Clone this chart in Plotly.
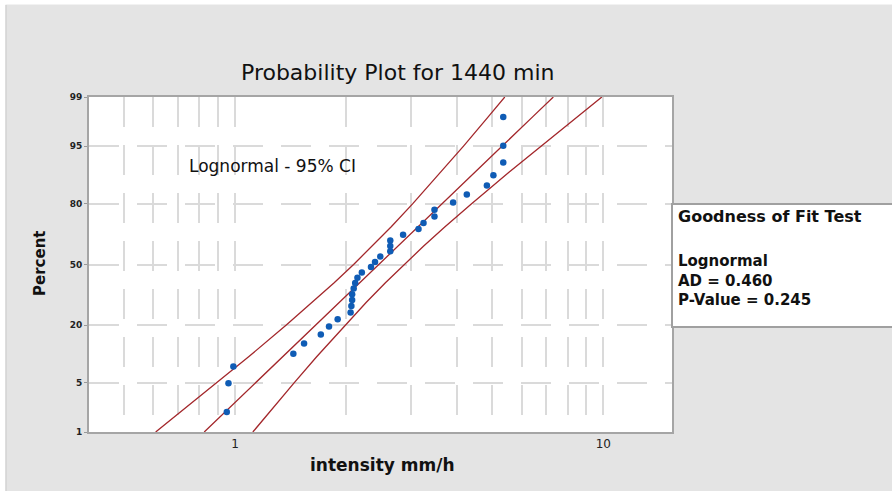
import plotly.graph_objects as go
from statistics import NormalDist

# ---------------- data ----------------
intensity = [0.95, 0.96, 0.99, 1.44, 1.54, 1.71, 1.80, 1.90, 2.06, 2.07,
             2.08, 2.08, 2.10, 2.12, 2.15, 2.21, 2.34, 2.40, 2.48, 2.64,
             2.64, 2.64, 2.86, 3.15, 3.25, 3.48, 3.48, 3.91, 4.26, 4.83,
             5.03, 5.35, 5.35, 5.35]
percent_points = [2.03, 4.94, 7.85, 10.76, 13.66, 16.57, 19.48, 22.38, 25.29, 28.20,
                  31.10, 34.01, 36.92, 39.83, 42.73, 45.64, 48.55, 51.45, 54.36, 57.27,
                  60.17, 63.08, 65.99, 68.90, 71.80, 74.71, 77.62, 80.52, 83.43, 86.34,
                  89.24, 92.15, 95.06, 97.97]

pct_levels = [1, 2, 5, 10, 20, 30, 40, 50, 60, 70, 80, 90, 95, 98, 99]
fit_x = [0.825, 0.938, 1.136, 1.347, 1.656, 1.922, 2.182, 2.457, 2.767, 3.142,
         3.646, 4.482, 5.315, 6.438, 7.316]
lower_x = [0.609, 0.710, 0.892, 1.089, 1.378, 1.624, 1.859, 2.099, 2.358, 2.656,
           3.035, 3.623, 4.173, 4.875, 5.401]
upper_x = [1.118, 1.238, 1.447, 1.666, 1.989, 2.273, 2.561, 2.877, 3.248, 3.717,
           4.381, 5.544, 6.770, 8.501, 9.910]

y_tick_pct = [1, 5, 20, 50, 80, 95, 99]
x_grid_vals = [0.5, 0.6, 0.7, 0.8, 0.9, 1, 2, 3, 4, 5, 6, 7, 8, 9, 10]
x_tick_text = ["", "", "", "", "", "1", "", "", "", "", "", "", "", "", "10"]

title_text = "Probability Plot for 1440 min"
x_title = "intensity mm/h"
y_title = "Percent"
ci_label = "Lognormal - 95% CI"
gof_title = "Goodness of Fit Test"
gof_lines = ["Lognormal", "AD = 0.460", "P-Value = 0.245"]

# ---------------- helpers ----------------
nd = NormalDist()
def z(p):
    return nd.inv_cdf(p / 100.0)

FONT = "DejaVu Sans"
LINE_COL = "#a3272b"
PT_COL = "#0f5cb5"

fig = go.Figure()
for xs in (lower_x, fit_x, upper_x):
    fig.add_trace(go.Scatter(x=xs, y=[z(p) for p in pct_levels], mode="lines",
                             line=dict(color=LINE_COL, width=1.3),
                             hoverinfo="skip", showlegend=False))
fig.add_trace(go.Scatter(x=intensity, y=[z(p) for p in percent_points], mode="markers",
                         marker=dict(color=PT_COL, size=6.5, symbol="circle"),
                         showlegend=False))

# plot area in pixels: x 89..672, y 97..432 (figure 892x491)
L, R, T, B = 89, 672, 97, 432
W, H = R - L, B - T
def px(xp):
    return (xp - L) / W
def py(yp):
    return (B - yp) / H

fig.update_layout(
    width=892, height=491,
    margin=dict(l=L, r=892 - R, t=T, b=491 - B, pad=0),
    paper_bgcolor="#e4e4e4",
    plot_bgcolor="#ffffff",
    showlegend=False,
    font=dict(family=FONT, color="#111111"),
)

fig.update_xaxes(
    type="log", range=[-0.3964, 1.1865],
    tickmode="array", tickvals=x_grid_vals, ticktext=x_tick_text,
    tickfont=dict(size=12, family=FONT, color="#222222"),
    ticks="", showgrid=True, gridcolor="#dadada", gridwidth=2, griddash="30px,18px",
    showline=True, mirror=True, linecolor="#a5a5a5", linewidth=2,
    zeroline=False,
)
fig.update_yaxes(
    range=[z(1), z(99)],
    tickmode="array", tickvals=[z(p) for p in y_tick_pct],
    ticktext=[str(p) for p in y_tick_pct],
    tickfont=dict(size=9, family=FONT, color="#222222", weight="bold"),
    ticks="outside", ticklen=3, tickcolor="#999999",
    showgrid=True, gridcolor="#dadada", gridwidth=2, griddash="30px,18px",
    showline=True, mirror=True, linecolor="#a5a5a5", linewidth=2,
    zeroline=False,
)

shapes = [
    # white strips at top and left edges of the picture
    dict(type="rect", xref="paper", yref="paper", layer="above",
         x0=px(-2), x1=px(895), y0=py(4.5), y1=py(-2),
         fillcolor="#ffffff", line=dict(width=0)),
    dict(type="rect", xref="paper", yref="paper", layer="above",
         x0=px(-2), x1=px(5.5), y0=py(495), y1=py(-2),
         fillcolor="#ffffff", line=dict(width=0)),
    dict(type="line", xref="paper", yref="paper", layer="above",
         x0=px(6), x1=px(6), y0=py(495), y1=py(5),
         line=dict(color="#c9c9c9", width=1)),
    # goodness of fit box
    dict(type="rect", xref="paper", yref="paper", layer="above",
         x0=px(672), x1=px(896), y0=py(327), y1=py(204),
         fillcolor="#ffffff", line=dict(color="#a0a0a0", width=2)),
]

annotations = [
    dict(text=title_text, x=px(397), y=py(73), xref="paper", yref="paper",
         showarrow=False, xanchor="center", yanchor="middle",
         font=dict(size=22, family=FONT, color="#111111")),
    dict(text="<b>" + x_title + "</b>", x=px(382), y=py(465), xref="paper", yref="paper",
         showarrow=False, xanchor="center", yanchor="middle",
         font=dict(size=17, family=FONT, color="#111111")),
    dict(text="<b>" + y_title + "</b>", x=px(40), y=py(264), xref="paper", yref="paper",
         showarrow=False, xanchor="center", yanchor="middle", textangle=-90,
         font=dict(size=15, family=FONT, color="#111111")),
    dict(text=ci_label, x=px(187), y=py(166), xref="paper", yref="paper",
         showarrow=False, xanchor="left", yanchor="middle",
         font=dict(size=17, family=FONT, color="#111111")),
    dict(text="<b>" + gof_title + "</b>", x=px(676), y=py(216),
         xref="paper", yref="paper", showarrow=False,
         xanchor="left", yanchor="middle",
         font=dict(size=16, family=FONT, color="#111111")),
    dict(text="<br>".join("<b>" + t + "</b>" for t in gof_lines), x=px(676), y=py(280),
         xref="paper", yref="paper", showarrow=False, align="left",
         xanchor="left", yanchor="middle",
         font=dict(size=15, family=FONT, color="#111111")),
]

fig.update_layout(shapes=shapes, annotations=annotations)
fig.write_html("out.html", config={"displayModeBar": False},
               post_script="document.body.style.margin='0';document.body.style.padding='0';"
                           "document.body.style.overflow='hidden';")
